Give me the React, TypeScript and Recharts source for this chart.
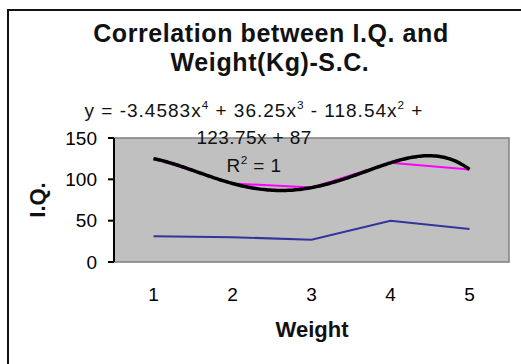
import { ComposedChart, Line, XAxis, YAxis, ReferenceArea } from "recharts";
import type { CSSProperties } from "react";

const persons = [1, 2, 3, 4, 5];
const iqScores = [125, 95, 90, 120, 112];
const weightsKg = [31, 30, 27, 50, 40];

const yTicks = [0, 50, 100, 150];
const xLabelTicks = [1, 2, 3, 4, 5];
const xBoundTicks = [0.5, 1.5, 2.5, 3.5, 4.5, 5.5];

const FONT = '"Liberation Sans", Arial, sans-serif';

const rows = persons.map((x, i) => ({ x, iq: iqScores[i], weight: weightsKg[i], trend: iqScores[i] }));

// polynomial trendline (R² = 1): draw the interpolating polynomial through the scaled points
function polyCurve(context: any) {
  let xs: number[] = [];
  let ys: number[] = [];
  return {
    areaStart() {},
    areaEnd() {},
    lineStart() {
      xs = [];
      ys = [];
    },
    point(x: number, y: number) {
      xs.push(+x);
      ys.push(+y);
    },
    lineEnd() {
      const n = xs.length;
      if (!n) return;
      const steps = 160;
      for (let s = 0; s <= steps; s++) {
        const px = xs[0] + ((xs[n - 1] - xs[0]) * s) / steps;
        let py = 0;
        for (let i = 0; i < n; i++) {
          let l = 1;
          for (let j = 0; j < n; j++) if (j !== i) l *= (px - xs[j]) / (xs[i] - xs[j]);
          py += ys[i] * l;
        }
        if (s === 0) context.moveTo(px, py);
        else context.lineTo(px, py);
      }
    },
  };
}

const text = (cx: number, cy: number, size: number, bold = false, spacing = 0): CSSProperties => ({
  position: "absolute",
  left: cx,
  top: cy - size / 2,
  transform: "translateX(-50%)",
  fontFamily: FONT,
  fontSize: size,
  lineHeight: `${size}px`,
  fontWeight: bold ? 700 : 400,
  letterSpacing: spacing,
  whiteSpace: "nowrap",
  color: "#111",
});

const sup: CSSProperties = { fontSize: "0.62em", verticalAlign: "0.65em", lineHeight: 0 };

export default function App() {
  return (
    <div style={{ position: "fixed", left: 0, top: 0, width: 521, height: 364, overflow: "hidden", background: "#fff" }}>
      <div
        style={{ position: "absolute", left: 7, top: 9, width: 600, height: 420, border: "2px solid #111", boxSizing: "border-box" }}
      />
      <div style={{ position: "absolute", left: 0, top: 0 }}>
        <ComposedChart width={521} height={364} data={rows} margin={{ top: 138, right: 12, bottom: 62, left: 0 }}>
          <ReferenceArea
            xAxisId="bounds"
            x1={0.5}
            x2={5.5}
            y1={0}
            y2={150}
            fill="#c0c0c0"
            fillOpacity={1}
            stroke="#808080"
            strokeWidth={1.5}
          />
          <XAxis
            xAxisId="bounds"
            dataKey="x"
            type="number"
            domain={[0.5, 5.5]}
            ticks={xBoundTicks}
            tick={false}
            tickSize={6}
            height={0}
            axisLine={{ stroke: "#000", strokeWidth: 2 }}
            tickLine={{ stroke: "#000", strokeWidth: 2 }}
          />
          <XAxis
            xAxisId="labels"
            dataKey="x"
            type="number"
            domain={[0.5, 5.5]}
            ticks={xLabelTicks}
            axisLine={false}
            tickLine={false}
            tickSize={0}
            tickMargin={26}
            height={40}
            tick={{ fontSize: 19, fill: "#000", fontFamily: FONT }}
          />
          <YAxis
            domain={[0, 150]}
            ticks={yTicks}
            width={114}
            tickSize={6}
            tickMargin={11}
            axisLine={{ stroke: "#000", strokeWidth: 2 }}
            tickLine={{ stroke: "#000", strokeWidth: 2 }}
            tick={{ fontSize: 19, fill: "#000", fontFamily: FONT }}
          />
          <Line
            xAxisId="bounds"
            dataKey="weight"
            type="linear"
            stroke="#34349c"
            strokeWidth={2}
            dot={false}
            isAnimationActive={false}
          />
          <Line
            xAxisId="bounds"
            dataKey="iq"
            type="linear"
            stroke="#ff00ff"
            strokeWidth={2}
            dot={false}
            isAnimationActive={false}
          />
          <Line
            xAxisId="bounds"
            dataKey="trend"
            type={polyCurve as any}
            stroke="#000"
            strokeWidth={3.5}
            dot={false}
            isAnimationActive={false}
          />
        </ComposedChart>
      </div>
      <div style={text(271, 33, 25, true, 0.6)}>Correlation between I.Q. and</div>
      <div style={text(270, 62, 25, true, 0.6)}>Weight(Kg)-S.C.</div>
      <div style={text(254, 110, 19, false, 1)}>
        y = -3.4583x<span style={sup}>4</span> + 36.25x<span style={sup}>3</span> - 118.54x<span style={sup}>2</span> +
      </div>
      <div style={text(254, 137, 19, false, 0.4)}>123.75x + 87</div>
      <div style={text(254, 165, 19, false, 0.4)}>
        R<span style={sup}>2</span> = 1
      </div>
      <div style={{ ...text(38, 200, 22, true), transform: "translateX(-50%) rotate(-90deg)" }}>I.Q.</div>
      <div style={text(312, 330, 22, true)}>Weight</div>
    </div>
  );
}
